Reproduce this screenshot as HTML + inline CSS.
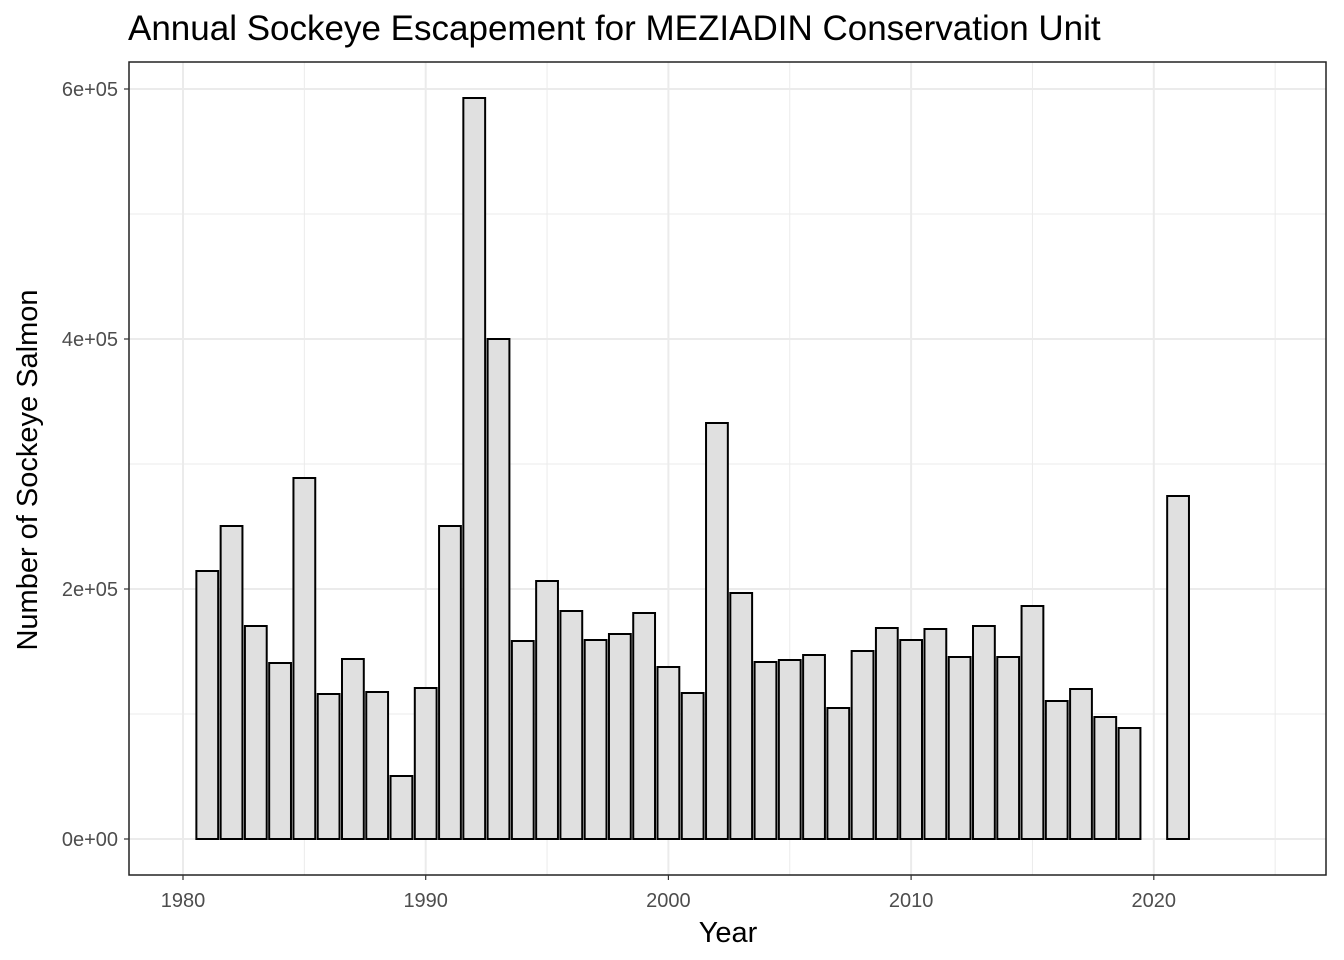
<!DOCTYPE html>
<html><head><meta charset="utf-8"><style>body{margin:0;background:#fff}svg{display:block}</style></head>
<body>
<svg id="chart" width="1344" height="960" xmlns="http://www.w3.org/2000/svg" font-family="Liberation Sans, Arial, sans-serif"></svg>
<script>
const years=[1981,1982,1983,1984,1985,1986,1987,1988,1989,1990,1991,1992,1993,1994,1995,1996,1997,1998,1999,2000,2001,2002,2003,2004,2005,2006,2007,2008,2009,2010,2011,2012,2013,2014,2015,2016,2017,2018,2019,2021];
const escapement=[214400,250400,170400,140800,288800,116000,144000,117600,50400,120800,250400,592800,400000,158400,206400,182400,159200,164000,180800,137600,116800,332800,196800,141600,143200,147200,104800,150400,168800,159200,168000,145600,170400,145600,186400,110400,120000,97600,88800,274400];
const yTicks=[0,200000,400000,600000];
const yTickLabels=["0e+00","2e+05","4e+05","6e+05"];
const xTicks=[1980,1990,2000,2010,2020];

const svg=document.getElementById('chart');
const NS='http://www.w3.org/2000/svg';
const L=129,R=1326,T=62,B=875;
const xs=y=>183+(y-1980)*24.27;
const ys=v=>839-v*0.00125;
function mk(tag,attrs,parent){const e=document.createElementNS(NS,tag);for(const k in attrs)e.setAttribute(k,attrs[k]);(parent||svg).appendChild(e);return e;}

const grid=mk('g',{});


[100000,300000,500000].forEach(v=>mk('line',{x1:L,x2:R,y1:ys(v),y2:ys(v),stroke:'#ebebeb','stroke-width':1},grid));
[1985,1995,2005,2015,2025].forEach(v=>mk('line',{x1:xs(v),x2:xs(v),y1:T,y2:B,stroke:'#ebebeb','stroke-width':1},grid));
yTicks.forEach(v=>mk('line',{x1:L,x2:R,y1:ys(v),y2:ys(v),stroke:'#ebebeb','stroke-width':2},grid));
xTicks.forEach(v=>mk('line',{x1:xs(v),x2:xs(v),y1:T,y2:B,stroke:'#ebebeb','stroke-width':2},grid));

const bars=mk('g',{});


years.forEach((yr,i)=>{
  const w=21.8,x=xs(yr)-w/2,y=ys(escapement[i]);
  const r=mk('rect',{x:x,y:y,width:w,height:ys(0)-y,fill:'#e0e0e0',stroke:'#000','stroke-width':2},bars);
  
  
});

const frame=mk('rect',{x:L,y:T,width:R-L,height:B-T,fill:'none',stroke:'#222','stroke-width':1.5});



const yax=mk('g',{});


yTicks.forEach((v,i)=>{
  mk('line',{x1:L-5,x2:L,y1:ys(v),y2:ys(v),stroke:'#333','stroke-width':1.2},yax);
  const t=mk('text',{x:L-11,y:ys(v)+7,'text-anchor':'end','font-size':20,fill:'#4d4d4d'},yax);
  t.textContent=yTickLabels[i];
});
const xax=mk('g',{});


xTicks.forEach(v=>{
  mk('line',{x1:xs(v),x2:xs(v),y1:B,y2:B+5,stroke:'#333','stroke-width':1.2},xax);
  const t=mk('text',{x:xs(v),y:B+32,'text-anchor':'middle','font-size':20,fill:'#4d4d4d'},xax);
  t.textContent=v;
});
</script>
<svg style="position:absolute;left:0;top:0" width="1344" height="960" xmlns="http://www.w3.org/2000/svg" font-family="Liberation Sans, Arial, sans-serif">
<text x="128" y="40" font-size="35" fill="#000">Annual Sockeye Escapement for MEZIADIN Conservation Unit</text>
<text x="728" y="942" text-anchor="middle" font-size="29" fill="#000">Year</text>
<text transform="translate(37,470) rotate(-90)" text-anchor="middle" font-size="29" fill="#000">Number of Sockeye Salmon</text>
</svg>
</body></html>
